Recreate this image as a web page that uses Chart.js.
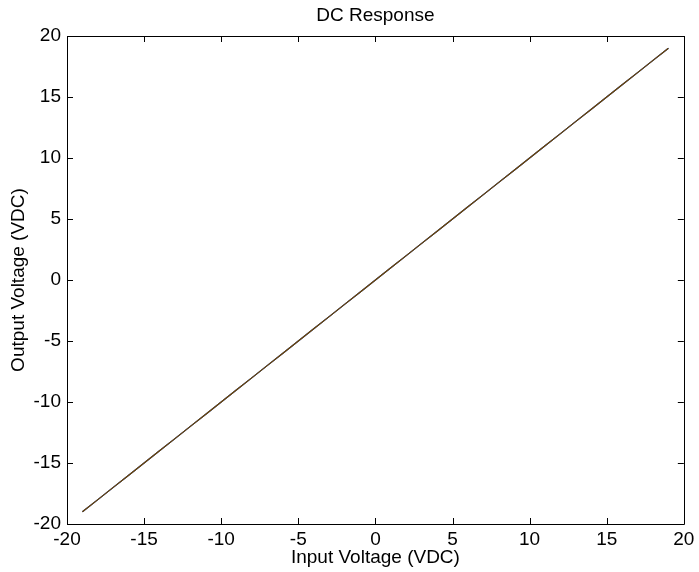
<!DOCTYPE html>
<html>
<head>
<meta charset="utf-8">
<script src="https://cdn.jsdelivr.net/npm/chart.js@4/dist/chart.umd.min.js"></script>
<style>
  html, body { margin: 0; padding: 0; background: #ffffff; }
  #wrap { width: 699px; height: 572px; }
</style>
</head>
<body>
<div id="wrap"><canvas id="c" width="699" height="572"></canvas></div>
<script>
// ---- data ----
const inputVoltage = [-19,-18,-17,-16,-15,-14,-13,-12,-11,-10,-9,-8,-7,-6,-5,-4,-3,-2,-1,0,1,2,3,4,5,6,7,8,9,10,11,12,13,14,15,16,17,18,19];
const outputVoltageA = [-19,-18,-17,-16,-15,-14,-13,-12,-11,-10,-9,-8,-7,-6,-5,-4,-3,-2,-1,0,1,2,3,4,5,6,7,8,9,10,11,12,13,14,15,16,17,18,19];
const outputVoltageB = [-19,-18,-17,-16,-15,-14,-13,-12,-11,-10,-9,-8,-7,-6,-5,-4,-3,-2,-1,0,1,2,3,4,5,6,7,8,9,10,11,12,13,14,15,16,17,18,19];
const outputVoltageC = [-19,-18,-17,-16,-15,-14,-13,-12,-11,-10,-9,-8,-7,-6,-5,-4,-3,-2,-1,0,1,2,3,4,5,6,7,8,9,10,11,12,13,14,15,16,17,18,19];
const xTickValues = [-20,-15,-10,-5,0,5,10,15,20];
const yTickValues = [-20,-15,-10,-5,0,5,10,15,20];
const titleText = 'DC Response';
const xLabel = 'Input Voltage (VDC)';
const yLabel = 'Output Voltage (VDC)';

const FONT = '"Liberation Sans", Arial, Helvetica, sans-serif';
const FS = 19;

function pts(xs, ys) { return xs.map((x, i) => ({ x: x, y: ys[i] })); }

// Box and inward tick marks on all four sides (MATLAB style)
const boxTicks = {
  id: 'boxTicks',
  afterDatasetsDraw(chart) {
    const { ctx, chartArea: a, scales } = chart;
    const L = 6;
    ctx.save();
    ctx.strokeStyle = '#000';
    ctx.lineWidth = 1;
    ctx.beginPath();
    scales.x.ticks.forEach(t => {
      const px = Math.round(scales.x.getPixelForValue(t.value)) + 0.5;
      ctx.moveTo(px, a.bottom); ctx.lineTo(px, a.bottom - L);
      ctx.moveTo(px, a.top); ctx.lineTo(px, a.top + L);
    });
    scales.y.ticks.forEach(t => {
      const py = Math.round(scales.y.getPixelForValue(t.value)) + 0.5;
      ctx.moveTo(a.left, py); ctx.lineTo(a.left + L, py);
      ctx.moveTo(a.right, py); ctx.lineTo(a.right - L, py);
    });
    ctx.stroke();
    ctx.beginPath();
    ctx.rect(Math.round(a.left) + 0.5, Math.round(a.top) + 0.5,
             Math.round(a.right - a.left), Math.round(a.bottom - a.top));
    ctx.stroke();
    ctx.restore();
  }
};

new Chart(document.getElementById('c'), {
  type: 'scatter',
  data: {
    datasets: [
      { data: pts(inputVoltage, outputVoltageA), order: 2, showLine: true, borderColor: 'rgb(0,0,255)', borderWidth: 1.2, pointRadius: 0, fill: false },
      { data: pts(inputVoltage, outputVoltageB), order: 1, showLine: true, borderColor: 'rgb(0,128,0)', borderWidth: 1.2, pointRadius: 0, fill: false },
      { data: pts(inputVoltage, outputVoltageC), order: 0, showLine: true, borderColor: 'rgba(255,0,0,0.45)', borderWidth: 1.2, pointRadius: 0, fill: false }
    ]
  },
  options: {
    responsive: false,
    animation: false,
    devicePixelRatio: 1,
    layout: { padding: { left: 0, right: 13, top: 0, bottom: 0 } },
    plugins: {
      legend: { display: false },
      tooltip: { enabled: false },
      title: {
        display: true, text: titleText, color: '#000', fullSize: false,
        font: { family: FONT, size: FS, weight: 'normal' },
        padding: { top: 4.2, bottom: 9.0 }
      }
    },
    scales: {
      x: {
        type: 'linear', min: -20, max: 20,
        afterBuildTicks(s) { s.ticks = xTickValues.map(v => ({ value: v })); },
        afterFit(s) { s.height = 48; },
        grid: { display: false, drawTicks: false },
        border: { display: false },
        ticks: { color: '#000', padding: 4.6, maxRotation: 0, autoSkip: false, font: { family: FONT, size: FS } },
        title: { display: true, text: xLabel, color: '#000', padding: { top: 0, bottom: 2.6 }, font: { family: FONT, size: FS } }
      },
      y: {
        type: 'linear', min: -20, max: 20,
        afterBuildTicks(s) { s.ticks = yTickValues.map(v => ({ value: v })); },
        afterFit(s) { s.width = 67; },
        grid: { display: false, drawTicks: false },
        border: { display: false },
        ticks: { color: '#000', padding: 6, autoSkip: false, font: { family: FONT, size: FS } },
        title: { display: true, text: yLabel, color: '#000', padding: { top: 7, bottom: 0 }, font: { family: FONT, size: FS } }
      }
    }
  },
  plugins: [boxTicks]
});
</script>
</body>
</html>
